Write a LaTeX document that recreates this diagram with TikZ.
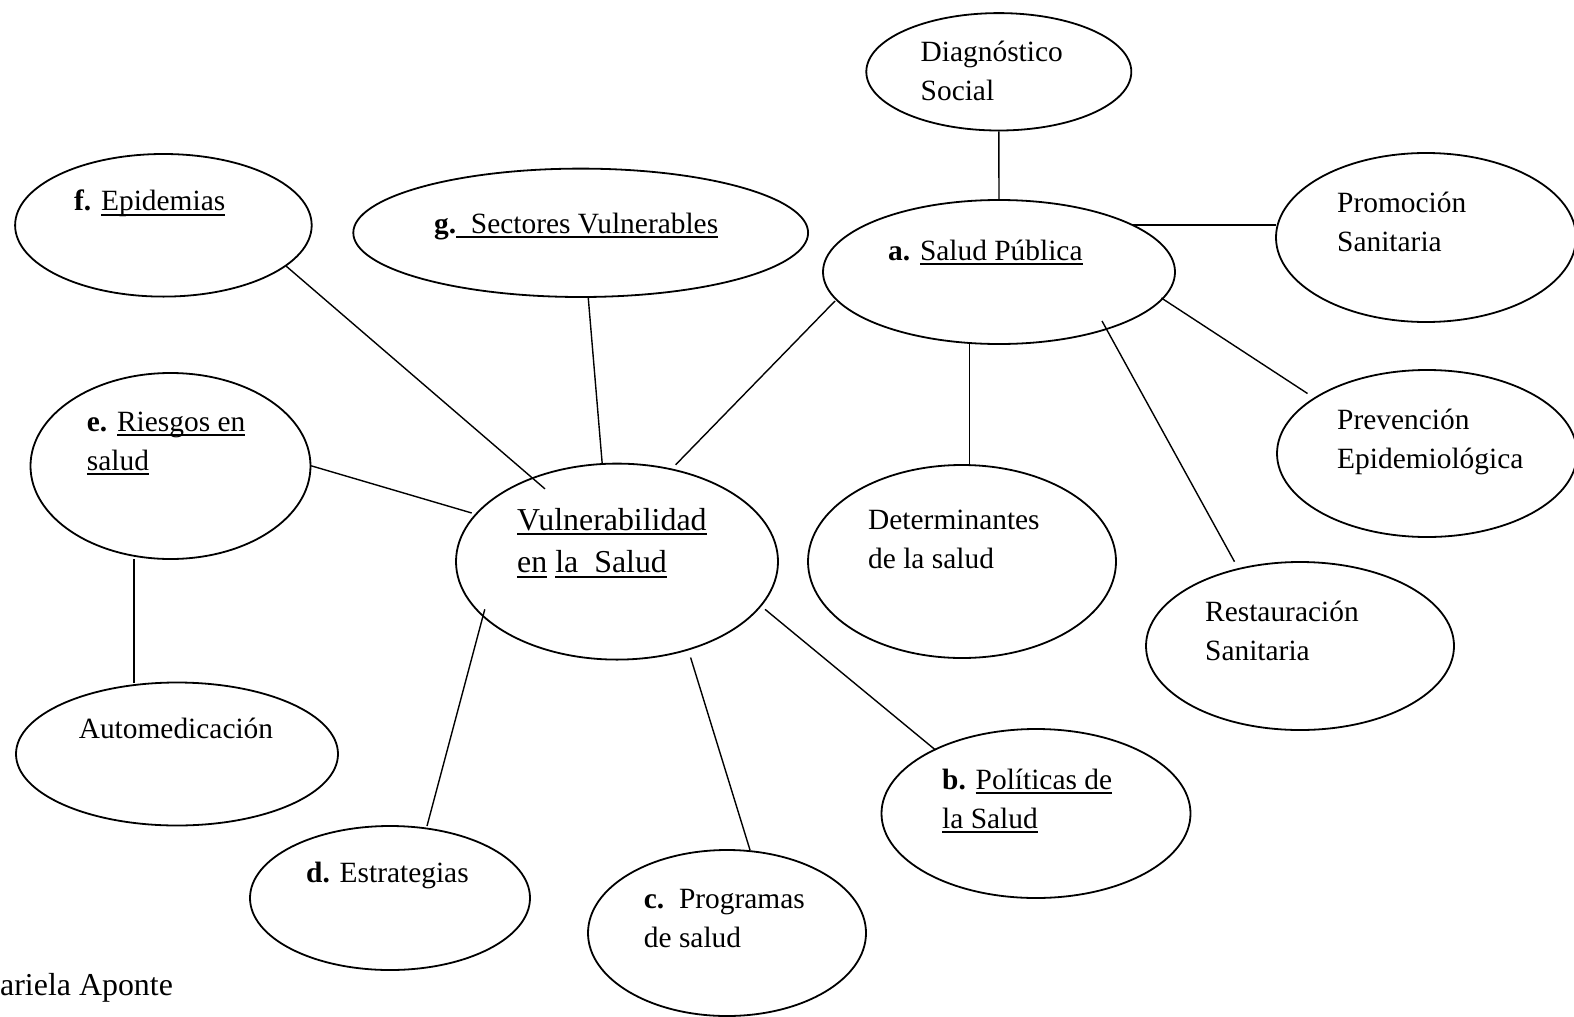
\documentclass[tikz,border=0pt]{standalone}
\usepackage{fontspec}
\setmainfont{Liberation Serif}
\newcommand{\myul}[1]{{\setbox0=\hbox{#1}\rlap{\rule[-5pt]{\wd0}{1.8pt}}\box0}}
\usetikzlibrary{shapes.geometric,calc}
\tikzset{
  bub/.style n args={2}{draw, ellipse, line width=1.8pt, inner sep=0pt, minimum width=#1, minimum height=#2},
  lbl/.style={anchor=base west, align=left, inner sep=0pt, font=\fontsize{29.4}{38.8}\selectfont},
  big/.style={font=\fontsize{31.9}{42.7}\selectfont},
  link/.style={line width=1.4pt}
}
\begin{document}
\begin{tikzpicture}[x=1pt,y=-1pt]
\useasboundingbox (0,0) rectangle (1574,1017);
\clip (0,0) rectangle (1574,1017);
% ellipses
\node[bub={265}{117.4}] (diag) at (998.8,71.8) {};
\node[bub={300}{169}] (prom) at (1426,237.5) {};
\node[bub={352}{144}] (sp) at (999,272) {};
\node[bub={454.8}{128.4}] (sect) at (580.7,232.8) {};
\node[bub={296.6}{142.6}] (epi) at (163.4,225.3) {};
\node[bub={280}{186}] (ries) at (170.5,466) {};
\node[bub={322}{196}] (vuln) at (617,561.6) {};
\node[bub={308}{193}] (det) at (962,561.5) {};
\node[bub={300}{167}] (prev) at (1427,453.5) {};
\node[bub={308}{168}] (rest) at (1300,646) {};
\node[bub={322}{143}] (auto) at (177,754) {};
\node[bub={309}{169}] (pol) at (1036,813.5) {};
\node[bub={280}{144}] (estr) at (390,898) {};
\node[bub={278}{166}] (prog) at (727,933) {};
% connectors
\draw[link] (diag.south) -- (sp.north);
\draw[link] ($(sp)+(133,-47)$) -- ($(prom)+(-150,-12.5)$);
\draw[link] ($(sp)+(162.4,26)$) -- ($(prev)+(-119.5,-60)$);
\draw[link] ($(sp)+(103,49)$) -- ($(rest)+(-65.5,-84.3)$);
\draw[link] ($(sp)+(-29.5,72)$) -- ($(det)+(7.5,-96.5)$);
\draw[link] ($(sp)+(-164,29)$) -- ($(vuln)+(58.6,-96.8)$);
\draw[link] ($(sect)+(7.5,64.3)$) -- ($(vuln)+(-14.7,-96.8)$);
\draw[link] ($(epi)+(122.6,40.7)$) -- ($(vuln)+(-72,-72.7)$);
\draw[link] ($(ries)+(140.7,-0.2)$) -- ($(vuln)+(-145.3,-48.6)$);
\draw[link] ($(ries)+(-36.5,93)$) -- ($(auto)+(-43,-71.3)$);
\draw[link] ($(vuln)+(-132.2,47.7)$) -- ($(estr)+(37,-72)$);
\draw[link] ($(vuln)+(73.6,95.9)$) -- ($(prog)+(23,-83)$);
\draw[link] ($(vuln)+(148,47.7)$) -- ($(pol)+(-100.5,-63.5)$);
% texts (multi-line nodes are placed by the baseline of their last line)
\node[lbl] (tdiag) at (920.5,100) {Diagnóstico\\Social};
\node[lbl] (tprom) at (1337,251) {Promoción\\Sanitaria};
\node[lbl] (tsp) at (888,260) {\textbf{a.} \myul{Salud Pública}};
\node[lbl] (tsect) at (434,233) {\textbf{g.}\myul{\ \ Sectores Vulnerables}};
\node[lbl] (tepi) at (74,210.7) {\textbf{f.} \myul{Epidemias}};
\node[lbl] (tries) at (86.7,470) {\textbf{e.} \myul{Riesgos en}\\\myul{salud}};
\node[lbl,big] (tvuln) at (517,572.7) {\myul{Vulnerabilidad}\\\myul{en} \myul{la\ \ Salud}};
\node[lbl] (tdet) at (868,568) {Determinantes\\de la salud};
\node[lbl] (tprev) at (1337,468) {Prevención\\Epidemiológica};
\node[lbl] (trest) at (1205,660) {Restauración\\Sanitaria};
\node[lbl] (tauto) at (78.6,738) {Automedicación};
\node[lbl] (tpol) at (942,828) {\textbf{b.} \myul{Políticas de}\\\myul{la Salud}};
\node[lbl] (testr) at (306,882) {\textbf{d.} Estrategias};
\node[lbl] (tprog) at (643.7,947) {\textbf{c.}\ \ Programas\\de salud};
\node[lbl,big] (tauth) at (0,995) {ariela Aponte};
\end{tikzpicture}
\end{document}
